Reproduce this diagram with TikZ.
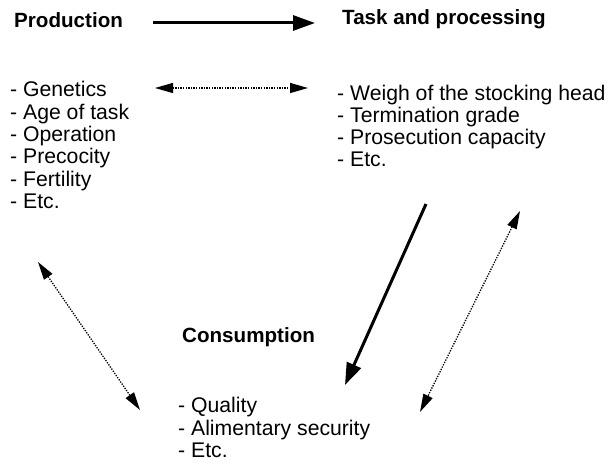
\documentclass[tikz,border=0pt]{standalone}
\usepackage{fontspec}
\setmainfont{Liberation Sans}
\usetikzlibrary{arrows.meta}
\begin{document}
\begin{tikzpicture}[x=1pt, y=-1pt,
  every node/.style = {inner sep=0pt, align=left,
    font=\fontsize{21.2}{22.3}\selectfont},
  head/.style = {font=\fontsize{20.6}{22.3}\selectfont\bfseries},
  flow/.style = {line width=3pt, -{Triangle[length=22pt,width=15pt]}},
  link/.style = {line width=1.3pt, dash pattern=on 1.3pt off 1.3pt,
    {Triangle[length=18pt,width=10pt]}-{Triangle[length=18pt,width=10pt]}}]
  \useasboundingbox (0,0) rectangle (608,470);
  % headings
  \node[head, anchor=base west] (prod) at (14,28) {Production};
  \node[head, anchor=base west] (task) at (342,25) {Task and processing};
  \node[head, anchor=base west] (cons) at (182,343) {Consumption};
  % lists (base = last line)
  \node[anchor=base west] (prodlist) at (10,208.5)
    {- Genetics\\- Age of task\\- Operation\\- Precocity\\- Fertility\\- Etc.};
  \node[anchor=base west] (tasklist) at (337,167)
    {- Weigh of the stocking head\\- Termination grade\\- Prosecution capacity\\- Etc.};
  \node[anchor=base west] (conslist) at (178,457.5)
    {- Quality\\- Alimentary security\\- Etc.};
  % arrow ends
  \coordinate (p1) at (153,23);  \coordinate (t1) at (315,23);
  \coordinate (p2) at (155,88);  \coordinate (t2) at (308,88);
  \coordinate (t3) at (426,204); \coordinate (c3) at (345,385);
  \coordinate (t4) at (520,211); \coordinate (c4) at (420,412);
  \coordinate (p5) at (38,262);  \coordinate (c5) at (140,410);
  \draw[flow] (p1) -- (t1);
  \draw[link] (p2) -- (t2);
  \draw[flow] (t3) -- (c3);
  \draw[link] (t4) -- (c4);
  \draw[link] (p5) -- (c5);
\end{tikzpicture}
\end{document}
